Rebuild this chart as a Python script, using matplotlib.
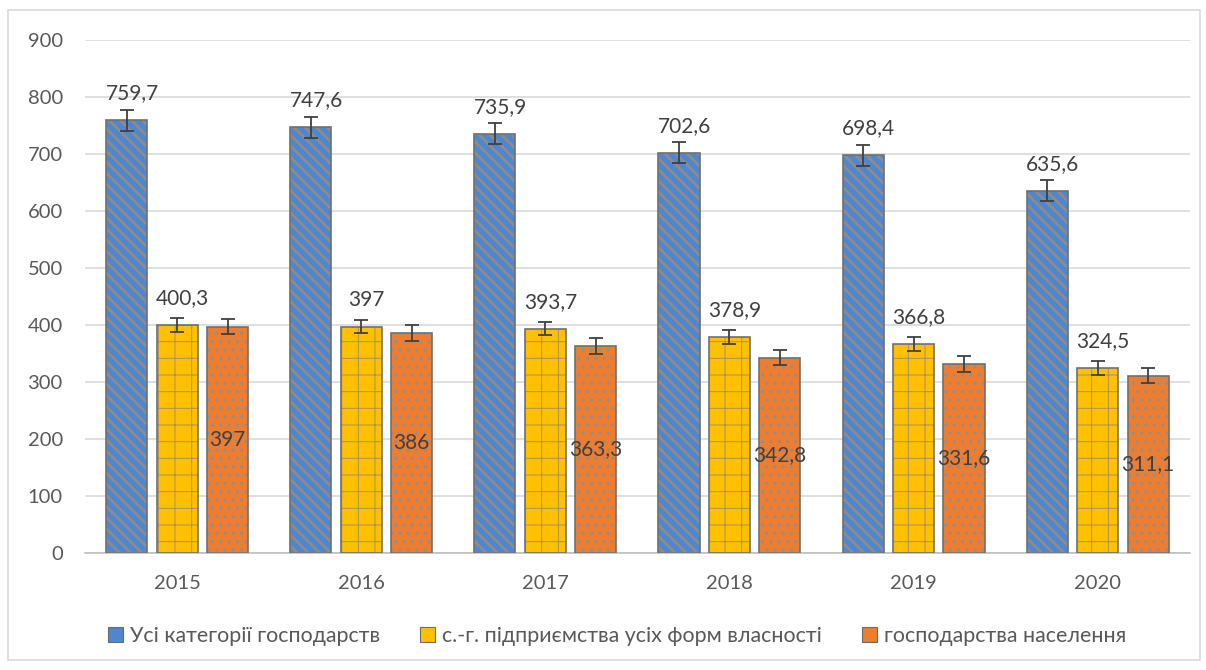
import numpy as np
import matplotlib
matplotlib.use("Agg")
from matplotlib import pyplot as plt
from matplotlib.patches import Rectangle

plt.rcParams['font.family'] = ['Lato', 'DejaVu Sans']

years = ['2015', '2016', '2017', '2018', '2019', '2020']
all_cat = [759.7, 747.6, 735.9, 702.6, 698.4, 635.6]
agro = [400.3, 397, 393.7, 378.9, 366.8, 324.5]
house = [397, 386, 363.3, 342.8, 331.6, 311.1]
# error bar half-widths (one per series)
err_all = 18.4
err_agro = 11.7
err_house = 13.4

names = ['Усі категорії господарств',
         'с.-г. підприємства усіх форм власності',
         'господарства населення']

def fmt(v):
    s = ('%.1f' % v).rstrip('0').rstrip('.')
    return s.replace('.', ',')

fig = plt.figure(figsize=(12.06, 6.70), dpi=100)
ax = fig.add_axes([0.0705, 0.1746, 0.916, 0.7654])

x = np.arange(len(years))
w = 0.223
off = 0.274
txt_c = '#404040'

series = [
    (all_cat, -off, '#4f86d0', '#8c8c8c', '\\\\\\', 2.0, err_all, 'top'),
    (agro, 0.0, '#ffc000', '#a89060', '+', 0.7, err_agro, 'top'),
    (house, off, '#ed7d31', '#8f8f8f', '..', 1.0, err_house, 'mid'),
]

def set_hlw(p, lw):
    if hasattr(p, 'set_hatch_linewidth'):
        p.set_hatch_linewidth(lw)

for vals, dx, face, hc, hatch, hlw, err, lab in series:
    bars = ax.bar(x + dx, vals, w, color=face, edgecolor=hc, hatch=hatch,
                  linewidth=0, zorder=2)
    for p in bars:
        set_hlw(p, hlw)
    ax.bar(x + dx, vals, w, fill=False, edgecolor='#707070',
           linewidth=1.2, zorder=3)
    ax.errorbar(x + dx, vals, yerr=err, fmt='none', ecolor='#404040',
                elinewidth=1.3, capsize=5, capthick=1.3, zorder=4)
    for xi, v in zip(x + dx, vals):
        if lab == 'top':
            ax.annotate(fmt(v), (xi, v), xytext=(4, 12),
                        textcoords='offset points', ha='center', va='bottom',
                        fontsize=15, color=txt_c, zorder=5)
        else:
            ax.text(xi, v / 2, fmt(v), ha='center', va='center',
                    fontsize=15, color=txt_c, zorder=5)

ax.set_xlim(-0.5, len(years) - 0.5)
ax.set_ylim(0, 900)
ax.set_yticks(np.arange(0, 901, 100))
ax.set_xticks(x)
ax.set_xticklabels(years)
ax.tick_params(axis='both', length=0, labelsize=14.5, colors='#595959')
ax.tick_params(axis='x', pad=16)
ax.tick_params(axis='y', pad=16)
ax.grid(axis='y', color='#d9d9d9', linewidth=1.2, zorder=0)
ax.set_axisbelow(True)
for s in ['left', 'right', 'top']:
    ax.spines[s].set_visible(False)
ax.spines['bottom'].set_color('#bfbfbf')
ax.spines['bottom'].set_linewidth(1.2)

handles = []
for vals, dx, face, hc, hatch, hlw, err, lab in series:
    handles.append(Rectangle((0, 0), 1, 1, facecolor=face, edgecolor='#6b6b6b',
                             linewidth=0.8))
leg = fig.legend(handles, names, loc='center', ncol=3,
                 bbox_to_anchor=(617 / 1206, 1 - 636 / 670), frameon=False,
                 fontsize=15.4, handlelength=0.7, handleheight=0.7,
                 handletextpad=0.3, columnspacing=1.9)
for t in leg.get_texts():
    t.set_color('#595959')

fig.patches.append(Rectangle((8 / 1206, 10 / 670), 1192 / 1206, 650 / 670,
                             transform=fig.transFigure, fill=False,
                             edgecolor='#d9d9d9', linewidth=1.2))

fig.savefig('out.png', dpi=100)
